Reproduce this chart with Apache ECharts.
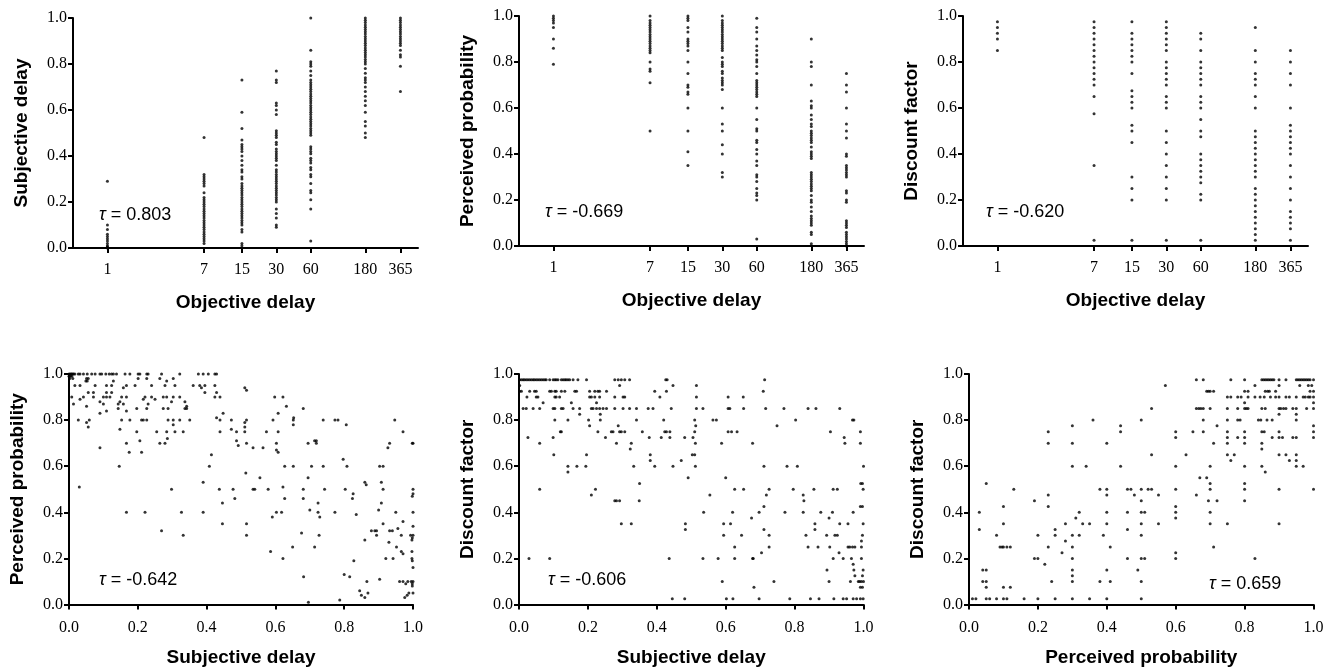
<!DOCTYPE html>
<html>
<head>
<meta charset="utf-8">
<script src="https://cdn.jsdelivr.net/npm/echarts@6/dist/echarts.min.js"></script>
<style>html,body{margin:0;padding:0;background:#fff}#c{width:1339px;height:672px}</style>
</head>
<body>
<div id="c"></div>
<script>
// ---------- DATA ----------
const delays = [1, 7, 15, 30, 60, 180, 365];
const yTicks = [0, 0.2, 0.4, 0.6, 0.8, 1.0];

// Panel A: Subjective delay by objective delay (one list per delay)
const subjDelayByDelay = [
  [0.29, 0.10, 0.08, 0.06, 0.05, 0.04, 0.03, 0.02, 0.01, 0.005, 0.0],
  [0.48, 0.32, 0.31, 0.30, 0.29, 0.28, 0.27, 0.24, 0.22, 0.21, 0.20, 0.19, 0.18, 0.17, 0.16, 0.15, 0.14, 0.13, 0.12, 0.11, 0.10, 0.09, 0.08, 0.07, 0.06, 0.05, 0.04, 0.03, 0.02],
  [0.73, 0.59, 0.52, 0.47, 0.45, 0.44, 0.43, 0.42, 0.40, 0.38, 0.36, 0.34, 0.33, 0.31, 0.30, 0.28, 0.27, 0.26, 0.25, 0.24, 0.23, 0.22, 0.21, 0.20, 0.19, 0.18, 0.17, 0.16, 0.15, 0.14, 0.13, 0.12, 0.11, 0.10, 0.08, 0.07, 0.02, 0.01],
  [0.77, 0.73, 0.72, 0.63, 0.62, 0.60, 0.58, 0.51, 0.50, 0.49, 0.48, 0.46, 0.45, 0.43, 0.42, 0.41, 0.40, 0.39, 0.38, 0.36, 0.34, 0.33, 0.32, 0.31, 0.30, 0.29, 0.28, 0.27, 0.26, 0.25, 0.24, 0.23, 0.22, 0.21, 0.20, 0.17, 0.15, 0.13, 0.10, 0.09],
  [1.0, 0.86, 0.81, 0.80, 0.79, 0.77, 0.75, 0.73, 0.72, 0.71, 0.70, 0.69, 0.68, 0.67, 0.66, 0.65, 0.64, 0.63, 0.62, 0.61, 0.60, 0.59, 0.58, 0.57, 0.56, 0.55, 0.54, 0.53, 0.52, 0.51, 0.50, 0.49, 0.44, 0.43, 0.42, 0.41, 0.39, 0.38, 0.37, 0.35, 0.34, 0.32, 0.31, 0.28, 0.25, 0.24, 0.21, 0.17, 0.03],
  [1.0, 0.99, 0.98, 0.97, 0.96, 0.95, 0.94, 0.93, 0.92, 0.91, 0.90, 0.89, 0.88, 0.87, 0.86, 0.85, 0.84, 0.83, 0.82, 0.81, 0.80, 0.78, 0.76, 0.74, 0.73, 0.72, 0.70, 0.68, 0.66, 0.64, 0.62, 0.59, 0.55, 0.53, 0.50, 0.48],
  [1.0, 0.99, 0.98, 0.97, 0.96, 0.95, 0.94, 0.93, 0.92, 0.91, 0.90, 0.89, 0.88, 0.86, 0.84, 0.83, 0.79, 0.68]
];

// Panel B: Perceived probability by objective delay
const probByDelay = [
  [1.0, 0.99, 0.98, 0.97, 0.95, 0.90, 0.86, 0.79],
  [1.0, 0.98, 0.97, 0.96, 0.95, 0.94, 0.93, 0.92, 0.91, 0.90, 0.89, 0.88, 0.87, 0.86, 0.85, 0.84, 0.80, 0.77, 0.76, 0.71, 0.50],
  [1.0, 0.99, 0.98, 0.95, 0.93, 0.90, 0.89, 0.88, 0.87, 0.85, 0.80, 0.75, 0.70, 0.69, 0.67, 0.66, 0.60, 0.50, 0.41, 0.35],
  [1.0, 0.98, 0.97, 0.96, 0.95, 0.94, 0.93, 0.92, 0.91, 0.90, 0.89, 0.88, 0.87, 0.86, 0.85, 0.82, 0.80, 0.79, 0.78, 0.76, 0.75, 0.73, 0.72, 0.71, 0.70, 0.68, 0.60, 0.53, 0.50, 0.44, 0.40, 0.32, 0.30],
  [0.99, 0.95, 0.93, 0.90, 0.87, 0.85, 0.83, 0.81, 0.80, 0.78, 0.75, 0.72, 0.71, 0.70, 0.69, 0.68, 0.67, 0.66, 0.65, 0.60, 0.55, 0.51, 0.50, 0.46, 0.45, 0.42, 0.40, 0.37, 0.35, 0.31, 0.30, 0.28, 0.25, 0.23, 0.22, 0.20, 0.03],
  [0.90, 0.80, 0.78, 0.70, 0.63, 0.61, 0.60, 0.57, 0.55, 0.53, 0.52, 0.50, 0.49, 0.48, 0.47, 0.46, 0.45, 0.43, 0.41, 0.40, 0.39, 0.38, 0.32, 0.31, 0.30, 0.29, 0.28, 0.27, 0.26, 0.25, 0.24, 0.22, 0.20, 0.19, 0.17, 0.15, 0.13, 0.12, 0.11, 0.10, 0.09, 0.06, 0.05, 0.01],
  [0.75, 0.70, 0.67, 0.60, 0.53, 0.50, 0.47, 0.40, 0.39, 0.35, 0.34, 0.33, 0.32, 0.31, 0.30, 0.24, 0.23, 0.20, 0.19, 0.11, 0.10, 0.09, 0.08, 0.06, 0.05, 0.04, 0.03, 0.02, 0.01, 0.0]
];

// Panel C: Discount factor by objective delay
const discByDelay = [
  [0.975, 0.95, 0.925, 0.90, 0.85],
  [0.975, 0.95, 0.925, 0.90, 0.875, 0.85, 0.825, 0.80, 0.775, 0.75, 0.725, 0.70, 0.65, 0.575, 0.35, 0.025],
  [0.975, 0.925, 0.90, 0.875, 0.85, 0.825, 0.80, 0.75, 0.675, 0.65, 0.625, 0.60, 0.525, 0.50, 0.45, 0.30, 0.25, 0.20, 0.025],
  [0.975, 0.95, 0.925, 0.90, 0.875, 0.85, 0.80, 0.775, 0.75, 0.725, 0.70, 0.65, 0.625, 0.60, 0.50, 0.45, 0.40, 0.35, 0.30, 0.25, 0.20, 0.025],
  [0.925, 0.90, 0.85, 0.80, 0.775, 0.75, 0.725, 0.70, 0.65, 0.625, 0.60, 0.55, 0.50, 0.475, 0.40, 0.375, 0.35, 0.325, 0.30, 0.275, 0.225, 0.20, 0.025],
  [0.95, 0.85, 0.80, 0.75, 0.725, 0.70, 0.65, 0.60, 0.50, 0.475, 0.45, 0.425, 0.40, 0.375, 0.35, 0.325, 0.30, 0.25, 0.225, 0.20, 0.175, 0.15, 0.125, 0.10, 0.075, 0.05, 0.025],
  [0.85, 0.80, 0.75, 0.70, 0.60, 0.525, 0.50, 0.475, 0.45, 0.425, 0.40, 0.35, 0.30, 0.25, 0.20, 0.15, 0.125, 0.10, 0.075, 0.025]
];

// Panel D: Perceived probability (y) vs subjective delay (x) — rows [y, xs]
const probVsSubj = [
  [1.0, [0.0, 0.003, 0.006, 0.008, 0.011, 0.013, 0.017, 0.027, 0.032, 0.042, 0.053, 0.066, 0.076, 0.09, 0.095, 0.107, 0.117, 0.124, 0.129, 0.138, 0.163, 0.177, 0.201, 0.206, 0.226, 0.23, 0.269, 0.322, 0.376, 0.39, 0.405, 0.424, 0.429]],
  [0.99, [0.0, 0.004, 0.008]],
  [0.98, [0.002, 0.011, 0.051, 0.056, 0.201, 0.226, 0.264, 0.303]],
  [0.97, [0.049, 0.053, 0.129, 0.284]],
  [0.95, [0.017, 0.032, 0.076, 0.109, 0.124, 0.167, 0.192, 0.24, 0.279, 0.308, 0.361, 0.38, 0.395, 0.424]],
  [0.94, [0.158, 0.385, 0.511]],
  [0.93, [0.516]],
  [0.92, [0.056, 0.071, 0.109, 0.124, 0.395, 0.429]],
  [0.90, [0.008, 0.042, 0.071, 0.10, 0.109, 0.119, 0.153, 0.167, 0.221, 0.24, 0.274, 0.284, 0.303, 0.322, 0.424, 0.439, 0.598, 0.622]],
  [0.89, [0.032, 0.216, 0.25]],
  [0.88, [0.09, 0.148, 0.298, 0.337]],
  [0.87, [0.013, 0.10, 0.143, 0.158, 0.23]],
  [0.86, [0.051, 0.342, 0.632]],
  [0.85, [0.143, 0.197, 0.226, 0.274, 0.288, 0.337, 0.342, 0.681]],
  [0.84, [0.109, 0.167]],
  [0.83, [0.09, 0.448, 0.608]],
  [0.81, [0.429, 0.653]],
  [0.80, [0.027, 0.059, 0.153, 0.177, 0.211, 0.216, 0.226, 0.288, 0.303, 0.322, 0.351, 0.439, 0.472, 0.516, 0.593, 0.652, 0.739, 0.773, 0.782, 0.947]],
  [0.79, [0.051, 0.511]],
  [0.78, [0.303, 0.652, 0.806]],
  [0.77, [0.056, 0.511]],
  [0.76, [0.148, 0.472]],
  [0.75, [0.197, 0.255, 0.284, 0.308, 0.332, 0.439, 0.487, 0.511, 0.574, 0.608, 0.971]],
  [0.72, [0.286]],
  [0.71, [0.206, 0.487, 0.714, 0.719]],
  [0.70, [0.167, 0.264, 0.279, 0.516, 0.603, 0.695, 0.719, 0.932, 0.998, 1.0]],
  [0.69, [0.492]],
  [0.68, [0.09, 0.535, 0.564, 0.927]],
  [0.67, [0.603]],
  [0.66, [0.175, 0.211, 0.608]],
  [0.65, [0.414]],
  [0.63, [0.797]],
  [0.60, [0.146, 0.408, 0.627, 0.652, 0.705, 0.739, 0.808, 0.903, 0.913]],
  [0.57, [0.514]],
  [0.55, [0.555, 0.695]],
  [0.53, [0.39, 0.86, 0.908]],
  [0.52, [0.864]],
  [0.51, [0.03, 0.622]],
  [0.50, [0.298, 0.437, 0.477, 0.535, 0.54, 0.579, 0.681, 0.743, 0.803, 0.913, 1.0]],
  [0.48, [0.826, 1.0]],
  [0.47, [0.998]],
  [0.46, [0.482, 0.627, 0.681, 0.824]],
  [0.44, [0.446, 0.724, 0.908]],
  [0.41, [0.70, 0.90]],
  [0.40, [0.167, 0.221, 0.327, 0.39, 0.603, 0.618, 0.724, 0.773, 0.95, 1.0]],
  [0.39, [0.835]],
  [0.38, [0.591, 0.729]],
  [0.36, [0.971]],
  [0.35, [0.446, 0.516, 0.913]],
  [0.34, [1.0]],
  [0.33, [0.956]],
  [0.32, [0.269, 0.879, 0.889, 0.894, 0.932, 0.94]],
  [0.31, [0.676]],
  [0.30, [0.332, 0.516, 0.727, 0.894, 0.966, 0.993, 1.0]],
  [0.29, [0.998]],
  [0.28, [0.86, 0.997]],
  [0.27, [0.93]],
  [0.25, [0.65, 0.714, 0.952]],
  [0.23, [0.586, 0.966, 0.997]],
  [0.22, [0.971]],
  [0.20, [0.622, 0.921, 0.942, 0.997]],
  [0.19, [0.828, 0.998]],
  [0.16, [1.0]],
  [0.13, [0.80]],
  [0.12, [0.682, 0.816]],
  [0.11, [0.903]],
  [0.10, [0.866, 0.961, 0.971, 0.985, 0.995, 1.0]],
  [0.09, [0.979, 0.998]],
  [0.08, [0.998]],
  [0.06, [0.845]],
  [0.05, [0.869, 0.988, 1.0]],
  [0.04, [0.85, 0.983]],
  [0.03, [0.86, 0.976]],
  [0.02, [0.787]],
  [0.01, [0.696]]
];

// Panel E: Discount factor (y) vs subjective delay (x) — rows [y, xs]
const discVsSubj = [
  [0.975, [0.002, 0.007, 0.012, 0.016, 0.021, 0.026, 0.031, 0.036, 0.041, 0.045, 0.05, 0.055, 0.06, 0.065, 0.07, 0.075, 0.079, 0.089, 0.099, 0.104, 0.108, 0.113, 0.123, 0.128, 0.133, 0.137, 0.142, 0.147, 0.157, 0.171, 0.196, 0.278, 0.288, 0.297, 0.307, 0.321, 0.426, 0.43, 0.713]],
  [0.95, [0.002, 0.292, 0.447, 0.515]],
  [0.925, [0.002, 0.007, 0.031, 0.045, 0.05, 0.089, 0.094, 0.104, 0.108, 0.123, 0.133, 0.162, 0.167, 0.205, 0.22, 0.229, 0.234, 0.254, 0.394, 0.428, 0.709]],
  [0.90, [0.023, 0.05, 0.055, 0.104, 0.108, 0.118, 0.205, 0.21, 0.22, 0.234, 0.278, 0.302, 0.307, 0.409, 0.515, 0.607, 0.651]],
  [0.875, [0.07, 0.152, 0.225]],
  [0.85, [0.012, 0.021, 0.041, 0.06, 0.099, 0.104, 0.123, 0.128, 0.157, 0.176, 0.21, 0.215, 0.225, 0.234, 0.244, 0.254, 0.278, 0.302, 0.321, 0.341, 0.375, 0.389, 0.442, 0.515, 0.534, 0.607, 0.612, 0.652, 0.716, 0.769, 0.839, 0.862, 0.931]],
  [0.825, [0.176, 0.236]],
  [0.80, [0.104, 0.142, 0.202, 0.236, 0.341, 0.42, 0.51, 0.563, 0.573, 0.803, 0.968, 0.972]],
  [0.775, [0.205, 0.288, 0.513, 0.749]],
  [0.75, [0.12, 0.123, 0.229, 0.268, 0.273, 0.292, 0.297, 0.307, 0.358, 0.423, 0.428, 0.438, 0.51, 0.607, 0.617, 0.633, 0.904, 0.991]],
  [0.725, [0.026, 0.099, 0.251, 0.378, 0.413, 0.438, 0.481, 0.505, 0.944]],
  [0.70, [0.06, 0.283, 0.326, 0.512, 0.588, 0.678, 0.946, 0.991]],
  [0.675, [0.323]],
  [0.65, [0.101, 0.196, 0.381, 0.503, 0.51]],
  [0.625, [0.381, 0.471]],
  [0.60, [0.142, 0.168, 0.194, 0.333, 0.394, 0.447, 0.512, 0.711, 0.778, 0.808, 1.0]],
  [0.575, [0.142]],
  [0.55, [0.491, 0.60]],
  [0.525, [0.35, 0.992, 0.997]],
  [0.50, [0.06, 0.222, 0.626, 0.652, 0.726, 0.796, 0.856, 0.912, 0.924, 0.999]],
  [0.475, [0.21, 0.554, 0.718, 0.825]],
  [0.45, [0.278, 0.283, 0.292, 0.349, 0.827]],
  [0.425, [0.711, 0.991, 0.997]],
  [0.40, [0.536, 0.62, 0.697, 0.772, 0.825, 0.876, 0.91, 0.97]],
  [0.375, [0.675, 0.90]],
  [0.35, [0.297, 0.326, 0.483, 0.594, 0.614, 0.859, 0.931, 0.955, 0.999]],
  [0.325, [0.483, 0.711, 0.859]],
  [0.30, [0.594, 0.646, 0.726, 0.833, 0.893, 0.917, 0.924, 0.997]],
  [0.275, [0.994]],
  [0.25, [0.626, 0.726, 0.839, 0.868, 0.902, 0.955, 0.96, 0.968, 0.975, 0.994]],
  [0.225, [0.704, 0.929]],
  [0.20, [0.029, 0.089, 0.436, 0.534, 0.578, 0.626, 0.678, 0.68, 0.912, 0.941, 0.965, 0.994]],
  [0.175, [0.97]],
  [0.15, [0.894, 0.972, 0.999]],
  [0.125, [0.975, 0.997]],
  [0.10, [0.59, 0.74, 0.90, 0.962, 0.985, 0.989, 0.994, 1.0]],
  [0.075, [0.682, 0.991, 0.997]],
  [0.025, [0.445, 0.481, 0.602, 0.621, 0.697, 0.786, 0.846, 0.871, 0.914, 0.941, 0.951, 0.97, 0.98, 0.991, 0.999]]
];

// Panel F: Discount factor (y) vs perceived probability (x) — rows [y, xs]
const discVsProb = [
  [0.975, [0.66, 0.68, 0.76, 0.80, 0.85, 0.855, 0.86, 0.865, 0.87, 0.875, 0.88, 0.885, 0.90, 0.92, 0.95, 0.955, 0.96, 0.965, 0.97, 0.975, 0.98, 0.985, 0.99, 1.0]],
  [0.95, [0.57, 0.83, 0.90, 0.96, 0.985, 0.995]],
  [0.925, [0.69, 0.695, 0.70, 0.71, 0.80, 0.81, 0.86, 0.867, 0.872, 0.89, 0.99, 1.0]],
  [0.90, [0.75, 0.76, 0.78, 0.79, 0.81, 0.83, 0.845, 0.857, 0.875, 0.89, 0.90, 0.92, 0.93, 0.95, 0.97, 0.976, 0.985, 0.99, 1.0]],
  [0.875, [0.80, 1.0]],
  [0.85, [0.53, 0.66, 0.667, 0.673, 0.68, 0.70, 0.75, 0.78, 0.80, 0.805, 0.81, 0.85, 0.86, 0.90, 0.905, 0.913, 0.92, 0.94, 0.95, 0.98, 1.0]],
  [0.825, [0.90, 0.95]],
  [0.80, [0.36, 0.50, 0.68, 0.75, 0.78, 0.787, 0.84, 0.847, 0.865, 0.88, 0.95]],
  [0.775, [0.30, 0.44, 0.72, 1.0]],
  [0.75, [0.23, 0.44, 0.60, 0.65, 0.68, 0.75, 0.80, 0.85, 0.857, 0.90, 1.0]],
  [0.725, [0.60, 0.75, 0.78, 0.80, 0.88, 0.90, 0.91, 0.94, 0.95, 1.0]],
  [0.70, [0.23, 0.30, 0.40, 0.71, 0.75, 0.80, 0.85]],
  [0.675, [0.85]],
  [0.65, [0.53, 0.63, 0.75, 0.77, 0.90, 0.92, 0.95]],
  [0.625, [0.76, 0.93, 0.95]],
  [0.60, [0.30, 0.34, 0.44, 0.60, 0.70, 0.80, 0.85, 0.95, 0.97]],
  [0.575, [0.86]],
  [0.55, [0.67, 0.69]],
  [0.525, [0.05, 0.70, 0.80]],
  [0.50, [0.13, 0.38, 0.40, 0.46, 0.47, 0.50, 0.52, 0.53, 0.60, 0.70, 0.80, 0.90, 1.0]],
  [0.475, [0.23, 0.40, 0.48, 0.55, 0.66]],
  [0.45, [0.19, 0.50, 0.695, 0.72, 0.80]],
  [0.425, [0.10, 0.23, 0.60]],
  [0.40, [0.03, 0.32, 0.40, 0.46, 0.50, 0.51, 0.60, 0.70]],
  [0.375, [0.31, 0.60]],
  [0.35, [0.10, 0.28, 0.33, 0.35, 0.40, 0.50, 0.55, 0.70, 0.75, 0.90]],
  [0.325, [0.03, 0.25, 0.46]],
  [0.30, [0.08, 0.20, 0.25, 0.30, 0.32, 0.39, 0.50]],
  [0.275, [0.28]],
  [0.25, [0.09, 0.096, 0.10, 0.11, 0.12, 0.23, 0.30, 0.41, 0.71]],
  [0.225, [0.27, 0.60]],
  [0.20, [0.19, 0.20, 0.30, 0.46, 0.50, 0.51, 0.60, 0.83]],
  [0.175, [0.22]],
  [0.15, [0.04, 0.05, 0.30, 0.40, 0.49]],
  [0.125, [0.30]],
  [0.10, [0.04, 0.05, 0.24, 0.30, 0.38, 0.41, 0.50]],
  [0.075, [0.05, 0.10, 0.12]],
  [0.025, [0.01, 0.02, 0.05, 0.06, 0.08, 0.10, 0.11, 0.16, 0.20, 0.25, 0.30, 0.35, 0.40, 0.50]]
];

const tauLabels = ['0.803', '-0.669', '-0.620', '-0.642', '-0.606', '0.659'];
const xNames = ['Objective delay', 'Objective delay', 'Objective delay', 'Subjective delay', 'Subjective delay', 'Perceived probability'];
const yNames = ['Subjective delay', 'Perceived probability', 'Discount factor', 'Perceived probability', 'Discount factor', 'Discount factor'];

// ---------- BUILD ----------
function fromColumns(cols) {
  const out = [];
  cols.forEach((vals, i) => vals.forEach(v => out.push([delays[i], v])));
  return out;
}
function fromRows(rows) {
  const out = [];
  rows.forEach(([y, xs]) => xs.forEach(x => out.push([x, y])));
  return out;
}
const seriesData = [
  fromColumns(subjDelayByDelay),
  fromColumns(probByDelay),
  fromColumns(discByDelay),
  fromRows(probVsSubj),
  fromRows(discVsSubj),
  fromRows(discVsProb)
];

const grids = [
  { left: 73, top: 18, width: 345, height: 230 },
  { left: 519, top: 16, width: 345, height: 230 },
  { left: 963, top: 16, width: 345, height: 230 },
  { left: 69, top: 374, width: 344, height: 230.5 },
  { left: 519, top: 374, width: 344.5, height: 230.5 },
  { left: 969, top: 374, width: 344.5, height: 230.5 }
];
const tauPos = [
  { left: 94, top: 201 }, { left: 540, top: 198 }, { left: 981, top: 198 },
  { left: 94, top: 566 }, { left: 543, top: 566 }, { left: 1204, top: 570 }
];

const black = '#000';
const serif = 'Liberation Serif';
const sans = 'Liberation Sans';
const lineStyle = { color: black, width: 2 };

const xAxes = [], yAxes = [], series = [], titles = [];
for (let i = 0; i < 6; i++) {
  const top = i < 3;
  const common = {
    gridIndex: i,
    axisLine: { show: true, lineStyle },
    axisTick: { show: true, length: 5, lineStyle },
    splitLine: { show: false },
    nameLocation: 'middle',
    nameTextStyle: { fontFamily: sans, fontWeight: 'bold', fontSize: 19, color: black }
  };
  if (top) {
    xAxes.push(Object.assign({}, common, {
      type: 'log', logBase: 10, min: 0.5, max: 520,
      name: xNames[i], nameGap: 45,
      axisTick: { show: true, length: 5, lineStyle, customValues: delays },
      axisLabel: { customValues: delays, fontFamily: serif, fontSize: 16, color: black, margin: 14, formatter: v => String(Math.round(v)) },
      minorTick: { show: false }
    }));
  } else {
    xAxes.push(Object.assign({}, common, {
      type: 'value', min: 0, max: 1, interval: 0.2,
      name: xNames[i], nameGap: 44,
      axisLabel: { fontFamily: serif, fontSize: 16, color: black, margin: 15, formatter: v => v.toFixed(1) }
    }));
  }
  yAxes.push(Object.assign({}, common, {
    type: 'value', min: 0, max: 1, interval: 0.2,
    name: yNames[i], nameGap: 42,
    axisLabel: { fontFamily: serif, fontSize: 16, color: black, margin: 6, formatter: v => v.toFixed(1) }
  }));
  series.push({
    type: 'scatter', xAxisIndex: i, yAxisIndex: i,
    data: seriesData[i],
    symbol: 'circle', symbolSize: 3,
    itemStyle: { color: black },
    silent: true, animation: false
  });
  titles.push({
    left: tauPos[i].left, top: tauPos[i].top,
    text: '{t|τ} = ' + tauLabels[i],
    textStyle: {
      fontFamily: sans, fontSize: 18, fontWeight: 'normal', color: black,
      rich: { t: { fontFamily: sans, fontSize: 18, fontStyle: 'italic', color: black } }
    }
  });
}

const chart = echarts.init(document.getElementById('c'), null, { renderer: 'canvas' });
chart.setOption({
  backgroundColor: '#fff',
  animation: false,
  title: titles,
  grid: grids,
  xAxis: xAxes,
  yAxis: yAxes,
  series: series
});
</script>
</body>
</html>
